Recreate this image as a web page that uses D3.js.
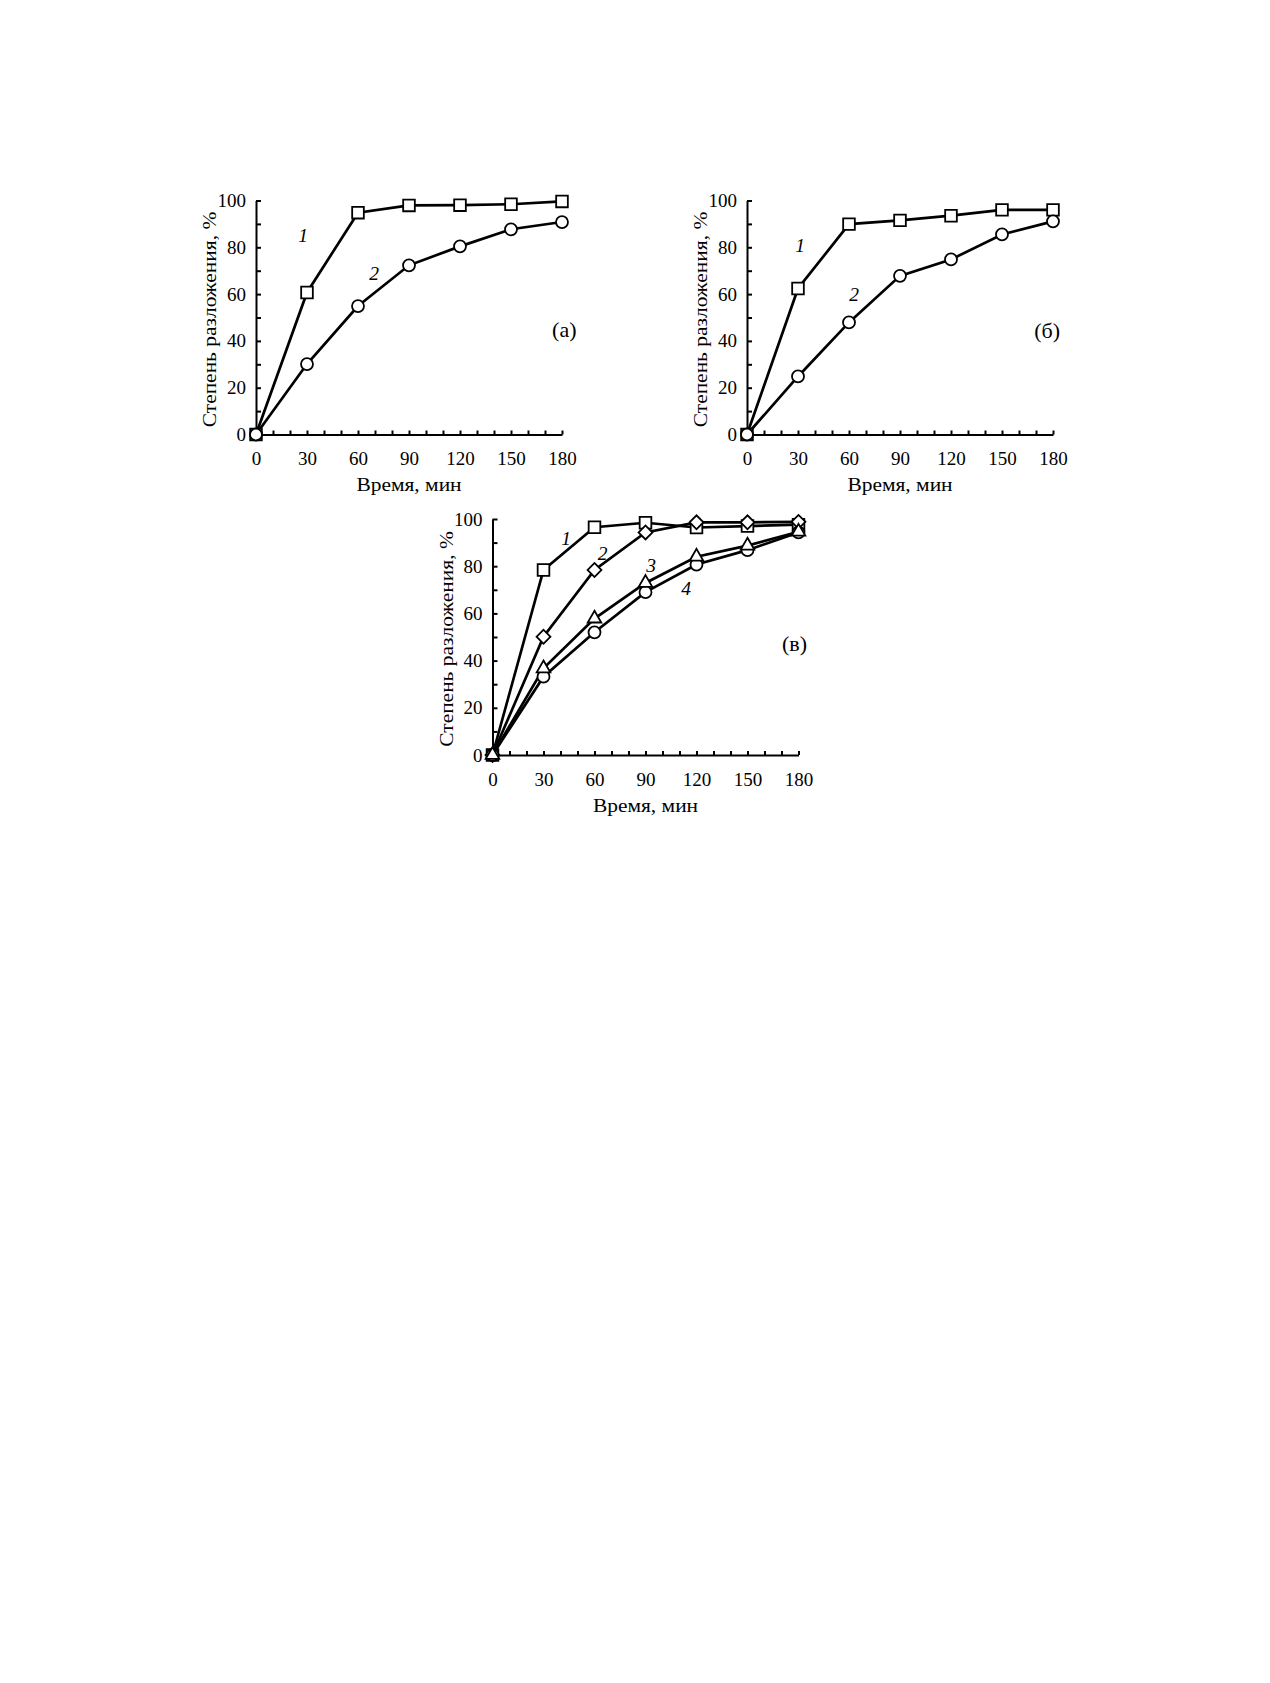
<!DOCTYPE html>
<html>
<head>
<meta charset="utf-8">
<script src="https://cdn.jsdelivr.net/npm/d3@7"></script>
<style>
body{margin:0;background:#fff;}
svg{display:block;}
text{font-family:"Liberation Serif","Times New Roman",serif;fill:#000;}
</style>
</head>
<body>
<script>
const minutes=[0,30,60,90,120,150,180];
const xTicks=[0,10,20,30,40,50,60,70,80,90,100,110,120,130,140,150,160,170,180];
const yTicks=[0,10,20,30,40,50,60,70,80,90,100];

// (а)
const aSeries1=[0,60.7,94.8,97.9,98.0,98.4,99.6];
const aSeries2=[0,30.1,54.9,72.3,80.4,87.7,90.8];
// (б)
const bSeries1=[0,62.4,89.9,91.5,93.5,96.0,96.0];
const bSeries2=[0,24.8,47.9,67.8,74.8,85.5,91.1];
// (в)
const cSeries1=[0,78.4,96.5,98.4,96.4,97.0,97.6];
const cSeries2=[0,50.1,78.4,94.3,98.6,98.6,98.8];
const cSeries3=[0,36.7,57.8,72.9,84.0,88.7,94.6];
const cSeries4=[0,33.2,52.0,69.0,80.7,86.8,94.3];

const xTitle="Время, мин", yTitle="Степень разложения, %";

const W=1270,H=1683;
const svg=d3.select("body").append("svg").attr("width",W).attr("height",H);

const sym={
  square:d3.symbol().type(d3.symbolSquare).size(136),
  circle:d3.symbol().type(d3.symbolCircle).size(113),
  diamond:d3.symbol().type(d3.symbolSquare).size(96),
  triangle:d3.symbol().type(d3.symbolTriangle).size(80)
};

// the source font is a bit wider than Liberation Serif
const stretch=1.1;

const panels=[
  {left:256,bottom:434.5,top:200.5,name:"(а)",nameX:576.5,nameY:337,
   series:[{v:aSeries1,s:"square",lab:"1",lx:303,ly:241.5},
           {v:aSeries2,s:"circle",lab:"2",lx:374,ly:280}]},
  {left:747,bottom:434.5,top:200.5,name:"(б)",nameX:1060,nameY:337.5,
   series:[{v:bSeries1,s:"square",lab:"1",lx:800,ly:251.5},
           {v:bSeries2,s:"circle",lab:"2",lx:854,ly:300.5}]},
  {left:492.5,bottom:755,top:519,name:"(в)",nameX:807,nameY:651,
   series:[{v:cSeries1,s:"square",lab:"1",lx:566,ly:545},
           {v:cSeries2,s:"diamond",lab:"2",lx:602.5,ly:560},
           {v:cSeries4,s:"circle",lab:"4",lx:686,ly:595},
           {v:cSeries3,s:"triangle",lab:"3",lx:651,ly:571.5}]}
];

panels.forEach(p=>{
  const x=d3.scaleLinear().domain([0,180]).range([p.left,p.left+306]);
  const y=d3.scaleLinear().domain([0,100]).range([p.bottom,p.top]);
  const g=svg.append("g");

  const xAxis=d3.axisBottom(x).tickValues(xTicks)
    .tickFormat(d=>d%30===0?d:"").tickSizeInner(-4).tickSizeOuter(0).tickPadding(17.5);
  const yAxis=d3.axisLeft(y).tickValues(yTicks)
    .tickFormat(d=>d%20===0?d:"").tickSizeInner(-5).tickSizeOuter(0).tickPadding(10);

  const gx=g.append("g").attr("transform",`translate(0,${p.bottom})`).call(xAxis);
  const gy=g.append("g").attr("transform",`translate(${p.left},0)`).call(yAxis);
  [gx,gy].forEach(a=>{
    a.selectAll("path,line").attr("stroke","#000").attr("stroke-width",2);
    a.selectAll("text").style("font-size","19px").style("font-family","Liberation Serif");
  });

  g.append("text")
    .attr("transform",`translate(${(p.left+p.left+306)/2},${p.bottom+56.5}) scale(${stretch},1)`)
    .attr("text-anchor","middle").style("font-size","19.5px").text(xTitle);
  g.append("text")
    .attr("transform",`translate(${p.left-40},${(p.top+p.bottom)/2+2}) rotate(-90) scale(${stretch},1)`)
    .attr("text-anchor","middle").style("font-size","19.5px").text(yTitle);

  g.append("text")
    .attr("transform",`translate(${p.nameX},${p.nameY}) scale(${stretch},1)`)
    .attr("text-anchor","end").style("font-size","20px").text(p.name);

  const line=d3.line().x((d,i)=>x(minutes[i])).y(d=>y(d));
  p.series.forEach(s=>{
    g.append("path").datum(s.v).attr("d",line)
      .attr("fill","none").attr("stroke","#000").attr("stroke-width",2.7)
      .attr("stroke-linejoin","miter");
  });
  p.series.forEach(s=>{
    g.selectAll(null).data(s.v).enter().append("path")
      .attr("d",sym[s.s])
      .attr("transform",(d,i)=>`translate(${x(minutes[i])},${y(d)})${s.s==="diamond"?" rotate(45)":""}`)
      .attr("fill","#fff").attr("stroke","#000").attr("stroke-width",1.8);
    g.append("text").attr("x",s.lx).attr("y",s.ly).attr("text-anchor","middle")
      .style("font-size","19.5px").style("font-style","italic").text(s.lab);
  });
});
</script>
</body>
</html>
